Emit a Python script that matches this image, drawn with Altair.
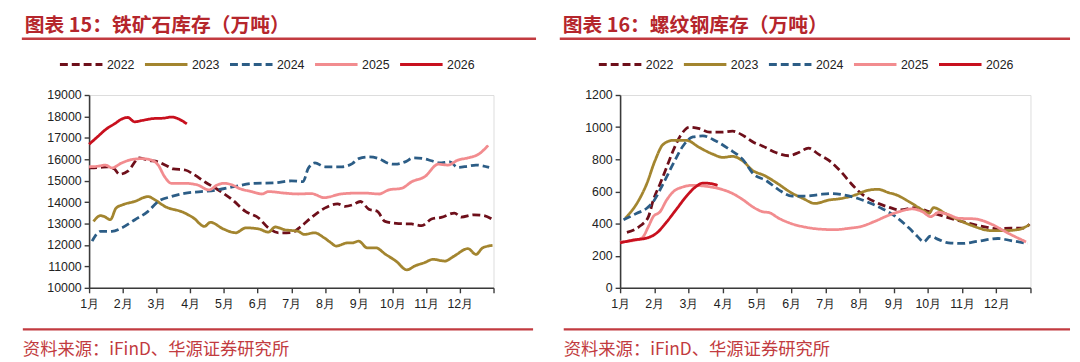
import altair as alt
import pandas as pd

years = ["2022", "2023", "2024", "2025", "2026"]
colors = ["#6E0F1A", "#A3852F", "#2C5D86", "#F28C8F", "#C8101E"]
dashes = [[8, 4], [1, 0], [8, 4], [1, 0], [1, 0]]
month_labels = ["1月", "2月", "3月", "4月", "5月", "6月", "7月", "8月", "9月", "10月", "11月", "12月"]

# ---- 铁矿石库存 (万吨) : month position, value ----
ore_2022_m = [0, 0.3, 0.55, 0.75, 0.9, 1.15, 1.5, 1.75, 2.05, 2.3, 2.5, 2.85, 3.1, 3.45, 3.8, 4.25, 4.64, 5.03, 5.32, 5.62, 6.0, 6.29, 6.58, 6.99, 7.37, 7.6, 7.81, 8.05, 8.3, 8.55, 8.78, 9.19, 9.57, 9.87, 10.16, 10.45, 10.84, 11.04, 11.42, 11.7, 11.98]
ore_2022_v = [15600, 15620, 15650, 15550, 15300, 15450, 16070, 15950, 15880, 15700, 15550, 15500, 15300, 14930, 14600, 14110, 13570, 13260, 12800, 12565, 12580, 12870, 13260, 13720, 13920, 13800, 13870, 14030, 13670, 13570, 13100, 13000, 12980, 12900, 13210, 13290, 13490, 13300, 13410, 13380, 13180]
ore_2023_m = [0.13, 0.34, 0.45, 0.63, 0.8, 1.0, 1.35, 1.75, 1.95, 2.25, 2.8, 3.1, 3.42, 3.6, 3.98, 4.35, 4.65, 5.03, 5.32, 5.52, 5.81, 6.2, 6.39, 6.68, 6.98, 7.18, 7.33, 7.67, 7.81, 8.0, 8.25, 8.5, 8.8, 9.1, 9.43, 9.67, 9.96, 10.2, 10.55, 10.84, 11.24, 11.48, 11.68, 11.97]
ore_2023_v = [13100, 13370, 13330, 13180, 13720, 13880, 14030, 14260, 14110, 13800, 13520, 13260, 12870, 13060, 12750, 12570, 12800, 12750, 12600, 12840, 12710, 12640, 12490, 12570, 12330, 12100, 11950, 12100, 12100, 12180, 11870, 11870, 11560, 11255, 10840, 11025, 11180, 11330, 11250, 11490, 11830, 11560, 11870, 11980]
ore_2024_m = [0.09, 0.34, 0.68, 0.97, 1.36, 1.75, 2.05, 2.44, 2.83, 3.32, 3.8, 4.3, 4.9, 5.5, 6.0, 6.35, 6.5, 6.7, 7.0, 7.5, 7.81, 8.0, 8.3, 8.6, 8.9, 9.08, 9.38, 9.62, 9.92, 10.16, 10.4, 10.7, 10.94, 11.24, 11.48, 11.87]
ore_2024_v = [12180, 12640, 12640, 12800, 13180, 13570, 14030, 14260, 14410, 14490, 14570, 14720, 14880, 14900, 14990, 14960, 15570, 15830, 15650, 15650, 15800, 16030, 16110, 16030, 15800, 15770, 15880, 16065, 16030, 15930, 15830, 15880, 15620, 15680, 15730, 15620]
ore_2025_m = [0, 0.29, 0.48, 0.68, 0.97, 1.27, 1.56, 1.85, 2.05, 2.24, 2.44, 2.83, 3.22, 3.56, 3.8, 4.0, 4.25, 4.44, 4.83, 5.13, 5.32, 5.81, 6.2, 6.59, 6.98, 7.47, 7.91, 8.2, 8.6, 8.89, 9.28, 9.57, 9.96, 10.36, 10.65, 10.94, 11.24, 11.58, 11.84]
ore_2025_v = [15650, 15680, 15730, 15600, 15830, 15990, 16030, 15960, 15730, 15190, 14880, 14880, 14800, 14570, 14800, 14880, 14800, 14650, 14490, 14380, 14490, 14420, 14380, 14400, 14210, 14380, 14420, 14420, 14380, 14570, 14650, 14950, 15190, 15770, 15730, 15960, 16065, 16260, 16650]
ore_2026_m = [0, 0.25, 0.5, 0.75, 1.0, 1.15, 1.35, 1.6, 1.9, 2.2, 2.45, 2.7, 2.9]
ore_2026_v = [16700, 17050, 17400, 17650, 17900, 17950, 17750, 17820, 17900, 17920, 17970, 17850, 17650]

# ---- 螺纹钢库存 (万吨) ----
reb_2022_m = [0.2, 0.59, 0.83, 0.97, 1.17, 1.36, 1.55, 1.79, 2.03, 2.32, 2.61, 3.0, 3.29, 3.62, 3.91, 4.16, 4.55, 4.93, 5.22, 5.51, 5.8, 6.18, 6.47, 6.76, 7.05, 7.44, 7.87, 8.16, 8.64, 9.03, 9.5, 9.99, 10.47, 11.05, 11.43, 11.82, 11.97]
reb_2022_v = [345, 386, 443, 546, 648, 750, 853, 955, 1000, 991, 969, 969, 975, 945, 905, 883, 842, 822, 842, 869, 832, 781, 720, 648, 587, 536, 501, 485, 499, 474, 443, 413, 388, 368, 372, 372, 396]
reb_2023_m = [0.15, 0.49, 0.78, 1.02, 1.26, 1.55, 1.94, 2.32, 2.71, 3.0, 3.29, 3.58, 3.88, 4.21, 4.6, 4.98, 5.35, 5.7, 6.09, 6.47, 6.86, 7.25, 7.54, 7.87, 8.06, 8.45, 8.84, 9.03, 9.17, 9.5, 9.89, 10.28, 10.86, 11.24, 11.63, 11.97]
reb_2023_v = [433, 525, 648, 791, 893, 918, 918, 873, 832, 812, 818, 791, 730, 700, 650, 595, 556, 525, 546, 556, 577, 607, 613, 591, 580, 536, 485, 464, 499, 464, 423, 388, 356, 356, 362, 393]
reb_2024_m = [0.1, 0.49, 0.78, 0.97, 1.26, 1.55, 1.84, 2.13, 2.42, 2.8, 3.19, 3.58, 3.91, 4.26, 4.64, 5.03, 5.41, 5.8, 6.18, 6.57, 6.96, 7.34, 7.68, 8.06, 8.45, 8.69, 8.88, 9.07, 9.32, 9.6, 9.99, 10.47, 11.05, 11.43, 11.92]
reb_2024_v = [423, 464, 495, 536, 648, 771, 883, 939, 945, 914, 863, 801, 706, 669, 610, 571, 571, 580, 587, 577, 556, 525, 491, 443, 372, 321, 286, 321, 300, 280, 276, 290, 307, 294, 276]
reb_2025_m = [0, 0.4, 0.64, 0.83, 0.97, 1.17, 1.36, 1.55, 1.84, 2.13, 2.51, 2.9, 3.29, 3.58, 3.91, 4.16, 4.36, 4.64, 5.03, 5.41, 5.8, 6.28, 6.67, 7.05, 7.44, 7.87, 8.16, 8.55, 8.84, 9.08, 9.32, 9.6, 9.89, 10.38, 10.86, 11.34, 11.87]
reb_2025_v = [285, 295, 310, 382, 443, 474, 546, 597, 628, 638, 632, 617, 587, 550, 500, 474, 468, 433, 398, 378, 366, 362, 370, 382, 413, 453, 474, 491, 474, 443, 470, 456, 433, 429, 396, 341, 286]
reb_2026_m = [0, 0.4, 0.78, 1.07, 1.36, 1.65, 1.94, 2.23, 2.42, 2.61, 2.85]
reb_2026_v = [280, 298, 310, 341, 410, 490, 570, 632, 652, 650, 638]

source_text = "资料来源：iFinD、华源证券研究所"
title_ore = "图表 15：铁矿石库存（万吨）"
title_reb = "图表 16：螺纹钢库存（万吨）"

TITLE_RED = "#B5262C"
LINE_RED = "#C23B40"
CJK = "Noto Sans CJK SC"
LAT = "Liberation Sans"


def long_df(series):
    rows = []
    for yr, ms, vs in series:
        for m, v in zip(ms, vs):
            rows.append({"year": yr, "m": m, "v": v})
    return pd.DataFrame(rows)


def panel(df, title, ydom, ystep, width, height, geo):
    leg = alt.Legend(
        title=None, orient="none", legendX=geo["lx"], legendY=geo["ly"],
        direction="horizontal", symbolType="stroke", symbolSize=1849,
        symbolStrokeWidth=3, labelFontSize=12.5, labelFont=LAT,
        labelColor="#222222", labelOffset=3, columnPadding=4, padding=0,
    )
    lines = alt.Chart(df).mark_line(strokeWidth=2.8, interpolate="monotone").encode(
        x=alt.X("m:Q", scale=alt.Scale(domain=[0, 12], nice=False, zero=False),
                axis=alt.Axis(values=list(range(13)), title=None, grid=False,
                              labelExpr="datum.value < 12 ? (datum.value + 1) + '月' : ''",
                              labelFlush=False, labelOverlap=False,
                              labelFontSize=12.5, labelFont=LAT, labelColor="#222222",
                              domainColor="#3a3a3a", domainWidth=1.6, tickColor="#3a3a3a",
                              tickWidth=1.4, tickSize=5, labelPadding=5)),
        y=alt.Y("v:Q", scale=alt.Scale(domain=ydom, nice=False, zero=False),
                axis=alt.Axis(values=list(range(ydom[0], ydom[1] + 1, ystep)), title=None,
                              grid=False, format="d", labelFontSize=12.5, labelFont=LAT,
                              labelColor="#222222", domainColor="#3a3a3a", domainWidth=1.6,
                              tickColor="#3a3a3a", tickWidth=1.4, tickSize=5, labelPadding=3)),
        color=alt.Color("year:N", scale=alt.Scale(domain=years, range=colors), legend=leg),
        strokeDash=alt.StrokeDash("year:N", scale=alt.Scale(domain=years, range=dashes), legend=leg),
    )
    ttl = alt.Chart(pd.DataFrame({"t": [title]})).mark_text(
        align="left", baseline="middle", fontSize=20, fontWeight="bold",
        font=CJK, color=TITLE_RED,
    ).encode(x=alt.value(geo["tx"]), y=alt.value(-70), text="t:N")
    top_rule = alt.Chart(pd.DataFrame({"a": [0]})).mark_rule(
        color=LINE_RED, strokeWidth=2.5
    ).encode(x=alt.value(geo["r1"][0]), x2=alt.value(geo["r1"][1]), y=alt.value(-57))
    bot_rule = alt.Chart(pd.DataFrame({"a": [0]})).mark_rule(
        color=LINE_RED, strokeWidth=2.5
    ).encode(x=alt.value(geo["r2"][0]), x2=alt.value(geo["r2"][1]), y=alt.value(237))
    src = alt.Chart(pd.DataFrame({"t": [source_text]})).mark_text(
        align="left", baseline="middle", fontSize=17.5, font=CJK, color=LINE_RED,
    ).encode(x=alt.value(geo["sx"]), y=alt.value(258), text="t:N")
    return alt.layer(lines, ttl, top_rule, bot_rule, src).properties(width=width, height=height)


ore_df = long_df([
    ("2022", ore_2022_m, ore_2022_v), ("2023", ore_2023_m, ore_2023_v),
    ("2024", ore_2024_m, ore_2024_v), ("2025", ore_2025_m, ore_2025_v),
    ("2026", ore_2026_m, ore_2026_v),
])
reb_df = long_df([
    ("2022", reb_2022_m, reb_2022_v), ("2023", reb_2023_m, reb_2023_v),
    ("2024", reb_2024_m, reb_2024_v), ("2025", reb_2025_m, reb_2025_v),
    ("2026", reb_2026_m, reb_2026_v),
])

left = panel(ore_df, title_ore, [10000, 19000], 1000, 409, 195,
             {"lx": -31, "ly": -54, "tx": -65, "r1": (-68, 452), "r2": (-67, 449), "sx": -67})
right = panel(reb_df, title_reb, [0, 1200], 200, 415, 195,
              {"lx": -23, "ly": -54, "tx": -58, "r1": (-61, 455), "r2": (-57, 455), "sx": -57})

chart = alt.hconcat(left, right, spacing=20).resolve_scale(
    color="independent", strokeDash="independent"
).properties(
    padding={"left": 12, "top": 5, "right": 0, "bottom": 0}
).configure_view(stroke=None).configure(background="white")

chart.save("out.html", embed_options={"renderer": "svg", "actions": False})
